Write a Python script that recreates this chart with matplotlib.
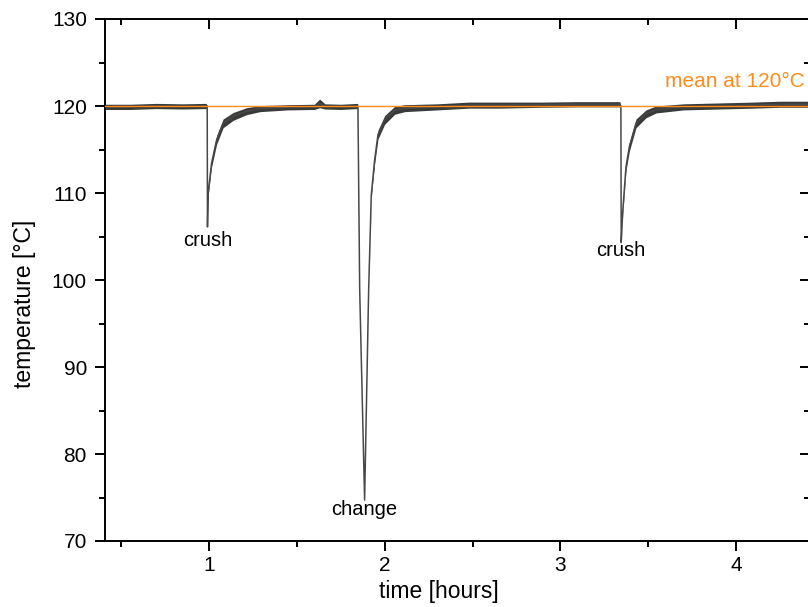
import matplotlib
matplotlib.use("Agg")
import matplotlib.pyplot as plt
from matplotlib.ticker import MultipleLocator
import matplotlib.lines as mlines
import numpy as np

plt.rcParams['font.family'] = ['Liberation Sans', 'DejaVu Sans']
plt.rcParams['xtick.labelsize'] = 15
plt.rcParams['ytick.labelsize'] = 15
plt.rcParams['xtick.major.size'] = 7.5
plt.rcParams['ytick.major.size'] = 7.5
plt.rcParams['xtick.minor.size'] = 4.5
plt.rcParams['ytick.minor.size'] = 4
plt.rcParams['xtick.major.width'] = 1.4
plt.rcParams['ytick.major.width'] = 1.4
plt.rcParams['xtick.minor.width'] = 1.4
plt.rcParams['ytick.minor.width'] = 1.4
plt.rcParams['xtick.major.pad'] = 3
plt.rcParams['ytick.major.pad'] = 5.5

# time in hours, mid temperature of trace, half-width of noise band (deg C)
time_h = [0.41, 0.55, 0.70, 0.85, 0.985, 0.9905, 0.992, 0.996, 1.015, 1.044,
          1.081, 1.138, 1.214, 1.29, 1.45, 1.60, 1.63, 1.66, 1.75, 1.846,
          1.848, 1.858, 1.886, 1.909, 1.924, 1.943, 1.962, 2.0, 2.057, 2.114,
          2.3, 2.48, 2.65, 2.9, 3.1, 3.338, 3.344, 3.346, 3.354, 3.373,
          3.392, 3.43, 3.487, 3.544, 3.7, 3.9, 4.1, 4.25, 4.42]
temp_mid = [119.9, 119.9, 120.0, 119.95, 120.0, 120.0, 106.1, 110.0, 113.4, 116.1,
            118.0, 118.8, 119.4, 119.7, 119.85, 119.9, 120.3, 119.95, 119.9, 120.0,
            120.0, 98.9, 74.7, 98.9, 109.8, 113.8, 116.7, 118.4, 119.5, 119.75,
            119.9, 120.1, 120.1, 120.15, 120.2, 120.2, 120.0, 104.3, 107.7, 113.0,
            115.3, 118.0, 119.1, 119.6, 119.9, 120.0, 120.1, 120.2, 120.2]
temp_spread = [0.3, 0.3, 0.3, 0.3, 0.3, 0.0, 0.0, 0.3, 0.45, 0.5,
               0.5, 0.45, 0.4, 0.35, 0.3, 0.3, 0.5, 0.3, 0.3, 0.3,
               0.0, 0.0, 0.0, 0.0, 0.3, 0.45, 0.5, 0.5, 0.45, 0.4,
               0.35, 0.35, 0.35, 0.3, 0.3, 0.3, 0.0, 0.0, 0.3, 0.45,
               0.5, 0.5, 0.45, 0.4, 0.35, 0.35, 0.35, 0.35, 0.35]

mean_temp = 120
events = ["crush", "change", "crush"]
event_pos = [(0.994, 104.5), (1.886, 73.6), (3.341, 103.4)]

fig = plt.figure(figsize=(8.08, 6.07), dpi=100)
ax = fig.add_axes([105/808, 1-541/607, (810-105)/808, (541-19)/607])

t = np.array(time_h)
m = np.array(temp_mid)
s = np.array(temp_spread)
dark = '#3a3a3a'
ax.fill_between(t, m - s, m + s, color=dark, lw=0, zorder=2)
ax.plot(t, m, color='#484848', lw=1.1, zorder=2)

orange = '#ff8c1a'
ax.axhline(mean_temp, color=orange, lw=1.0, zorder=3)
ax.text(4.39, 122.76, "mean at 120°C", color=orange, fontsize=15,
        ha='right', va='center')

for lab, (x, y) in zip(events, event_pos):
    ax.text(x, y, lab, fontsize=14.5, ha='center', va='center', color='black')

ax.set_xlim(0.409, 4.42)
ax.set_ylim(70, 130)
ax.xaxis.set_major_locator(MultipleLocator(1))
ax.xaxis.set_minor_locator(MultipleLocator(0.5))
ax.yaxis.set_major_locator(MultipleLocator(10))
ax.yaxis.set_minor_locator(MultipleLocator(5))

ax.tick_params(which='both', top=True, right=True, direction='out')
# top/right ticks inward
for tl in ax.xaxis.get_major_ticks() + ax.xaxis.get_minor_ticks():
    tl.tick2line.set_marker(mlines.TICKDOWN)
for tl in ax.yaxis.get_major_ticks() + ax.yaxis.get_minor_ticks():
    tl.tick2line.set_marker(mlines.TICKLEFT)

for sp in ax.spines.values():
    sp.set_linewidth(1.4)

ax.set_xlabel("time [hours]", fontsize=16.5)
ax.xaxis.set_label_coords(0.474, -0.075)
ax.set_ylabel("temperature [°C]", fontsize=16.5)
ax.yaxis.set_label_coords(-0.098, 0.455)

fig.savefig("out.png", dpi=100)
